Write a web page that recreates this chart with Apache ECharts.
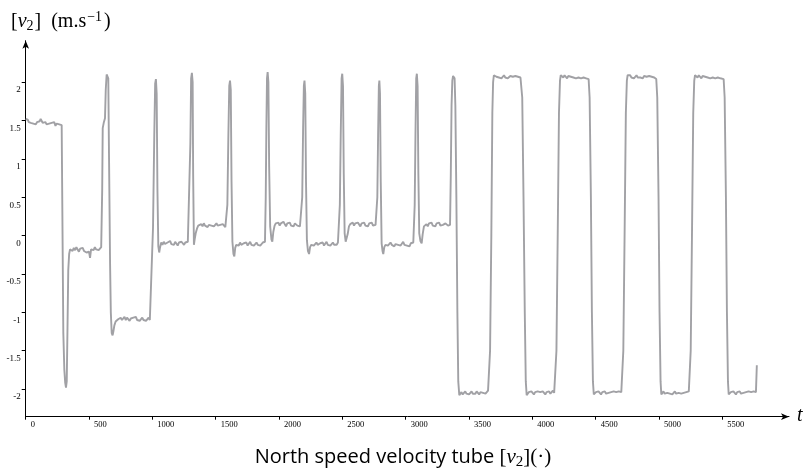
<!DOCTYPE html>
<html><head><meta charset="utf-8">
<script src="https://cdn.jsdelivr.net/npm/echarts/dist/echarts.min.js"></script>
<style>html,body{margin:0;padding:0;background:#fff}#c{width:806px;height:470px}</style>
</head><body><div id="c"></div>
<script>
const xTicks = [0, 500, 1000, 1500, 2000, 2500, 3000, 3500, 4000, 4500, 5000, 5500];
const yTicks = [-2, -1.5, -1, -0.5, 0, 0.5, 1, 1.5, 2];

// [t, v2] samples
const segStart = [[0,1.52],[8,1.50],[16,1.51],[24,1.48],[32,1.49],[40,1.47],[50,1.48],[60,1.46],[70,1.47],[80,1.45],[90,1.48],[100,1.46],[110,1.49],[118,1.52],[126,1.53],[134,1.47],[145,1.46],[155,1.48],[165,1.45],[175,1.47],[185,1.46],[195,1.44],[205,1.47],[215,1.46],[225,1.48],[235,1.43],[245,1.46],[255,1.47],[265,1.45],[275,1.46],[284,1.44],
 [297,-1.27],[305,-1.75],[312,-1.92],[318,-1.98],[324,-1.9],[330,-1.2],[336,-0.45],[343,-0.24],[350,-0.18],
 [360,-0.17],[370,-0.20],[380,-0.16],[390,-0.19],[400,-0.15],[410,-0.18],[420,-0.21],[430,-0.17],[440,-0.19],[450,-0.16],[460,-0.20],[470,-0.18],[480,-0.22],[490,-0.20],[500,-0.21],[508,-0.29],[516,-0.18],[526,-0.17],[536,-0.19],[546,-0.15],[556,-0.18],[566,-0.16],[576,-0.19],[586,-0.17],[596,-0.15],
 [600,-0.16],[604,0.6],[608,1.40],[616,1.47],[626,1.53],[632,1.9],[639,2.10],[646,2.12],[652,2.05],[658,1.0],[666,-0.35],[672,-1.0],[679,-1.27],[686,-1.30],[692,-1.25],[700,-1.17],[710,-1.12],[720,-1.10]];
const segLow1 = [[730,-1.09],[740,-1.11],[750,-1.07],[760,-1.10],[770,-1.08],[780,-1.06],[790,-1.10],[800,-1.07],[810,-1.09],[820,-1.11],[830,-1.08],[840,-1.10],[850,-1.07],[860,-1.09],[870,-1.06],[880,-1.10],[890,-1.08],[900,-1.11],[910,-1.09],[920,-1.07],[930,-1.10],[940,-1.08],[950,-1.11],[960,-1.09],[970,-1.07],[980,-1.10],[990,-1.12],[995,-1.09],
 [1005,0.1],[1015,1.3],[1022,1.98],[1028,2.04],[1034,1.85],[1040,0.6],[1047,-0.14],[1054,-0.22],[1060,-0.16],
 [1070,-0.09],[1080,-0.12],[1090,-0.08],[1100,-0.11],[1110,-0.13],[1120,-0.09],[1130,-0.10],[1140,-0.07],[1150,-0.11],[1160,-0.09],[1170,-0.12],[1180,-0.08],[1190,-0.10],[1200,-0.13],[1210,-0.09],[1220,-0.11],[1230,-0.08],[1240,-0.10],[1250,-0.12],[1260,-0.09],[1270,-0.11],[1280,-0.08],[1290,-0.10],
 [1300,1.2],[1306,2.05],[1312,2.12],[1318,2.0],[1322,0.8],[1328,-0.12],[1334,-0.05],[1342,0.03],[1352,0.09],[1362,0.13],[1376,0.15],
 [1386,0.15],[1396,0.12],[1406,0.16],[1416,0.13],[1426,0.15],[1436,0.11],[1446,0.14],[1456,0.16],[1466,0.13],[1476,0.15],[1486,0.12],[1496,0.14],[1506,0.16],[1516,0.13],[1526,0.11],[1536,0.14],[1546,0.12],[1556,0.15],[1566,0.13],[1576,0.11],[1586,0.13]];
const segMid = [[1592,0.4],[1600,1.3],[1607,1.95],[1613,2.02],[1619,1.9],[1625,0.7],[1632,-0.08],[1640,-0.24],[1647,-0.27],[1654,-0.16],[1662,-0.12],
 [1672,-0.10],[1682,-0.13],[1692,-0.09],[1702,-0.12],[1712,-0.14],[1722,-0.10],[1732,-0.12],[1742,-0.09],[1752,-0.13],[1762,-0.11],[1772,-0.08],[1782,-0.12],[1792,-0.10],[1802,-0.13],[1812,-0.11],[1822,-0.09],[1832,-0.12],[1842,-0.10],[1852,-0.13],[1862,-0.11],[1872,-0.09],[1882,-0.10],[1889,-0.08],
 [1895,0.5],[1900,1.4],[1905,2.05],[1910,2.13],[1916,2.0],[1922,0.9],[1930,0.12],[1940,-0.05],[1947,-0.08],[1955,0.05],[1965,0.13],[1975,0.16],
 [1985,0.14],[1995,0.17],[2005,0.13],[2015,0.16],[2025,0.14],[2035,0.18],[2045,0.15],[2055,0.12],[2065,0.16],[2075,0.14],[2085,0.17],[2095,0.13],[2105,0.15],[2115,0.12],[2125,0.16],[2135,0.14],[2145,0.13],[2155,0.15],[2165,0.12],[2175,0.14],
 [2183,0.5],[2190,1.4],[2196,1.95],[2201,2.02],[2207,1.85],[2213,0.7],[2220,-0.06],[2228,-0.2],[2237,-0.24],[2245,-0.15],[2255,-0.12],
 [2265,-0.10],[2275,-0.13],[2285,-0.11],[2295,-0.09],[2305,-0.12],[2315,-0.14],[2325,-0.10],[2335,-0.12],[2345,-0.09],[2355,-0.13],[2365,-0.11],[2375,-0.08],[2385,-0.12],[2395,-0.10],[2405,-0.13],[2415,-0.11],[2425,-0.09],[2435,-0.12],[2445,-0.10],[2455,-0.12],[2465,-0.09],[2474,-0.11],
 [2480,0.4],[2487,1.3],[2494,2.05],[2499,2.11],[2505,1.95],[2511,0.8],[2518,0.03],[2526,-0.08],[2534,-0.10],[2542,0.02],[2552,0.12],[2562,0.15],
 [2572,0.14],[2582,0.17],[2592,0.13],[2602,0.16],[2612,0.14],[2622,0.17],[2632,0.15],[2642,0.12],[2652,0.16],[2662,0.14],[2672,0.17],[2682,0.13],[2692,0.15],[2702,0.12],[2712,0.16],[2722,0.14],[2732,0.17],[2742,0.13],[2752,0.15],[2762,0.14],[2770,0.16],
 [2776,0.5],[2782,1.3],[2788,1.95],[2792,2.02],[2797,1.85],[2803,0.7],[2810,-0.1],[2817,-0.2],[2823,-0.24],[2831,-0.15],[2840,-0.12],
 [2850,-0.10],[2860,-0.13],[2870,-0.11],[2880,-0.09],[2890,-0.12],[2900,-0.10],[2910,-0.14],[2920,-0.11],[2930,-0.09],[2940,-0.12],[2950,-0.10],[2960,-0.13],[2970,-0.11],[2980,-0.08],[2990,-0.12],[3000,-0.10],[3010,-0.13],[3020,-0.11],[3030,-0.14],[3040,-0.10],[3050,-0.12],[3060,-0.09],[3066,-0.11],
 [3071,0.4],[3077,1.3],[3083,2.05],[3088,2.11],[3094,1.95],[3100,0.8],[3107,0.03],[3116,-0.07],[3126,-0.10],[3134,0.02],[3144,0.12],[3154,0.14],
 [3164,0.15],[3174,0.12],[3184,0.16],[3194,0.14],[3204,0.17],[3214,0.13],[3224,0.15],[3234,0.12],[3244,0.16],[3254,0.14],[3264,0.17],[3274,0.13],[3284,0.15],[3294,0.14],[3304,0.12],[3314,0.16],[3324,0.14],[3334,0.13],[3344,0.15],[3350,0.14]];
const segSquare = [[3356,0.8],[3362,1.7],[3368,2.02],[3374,2.08],[3380,2.09],[3386,2.05],[3392,1.7],[3400,0.5],[3408,-1.0],[3415,-1.9],[3423,-2.08],[3430,-2.1],
 [3440,-2.04],[3450,-2.07],[3460,-2.05],[3470,-2.03],[3480,-2.06],[3490,-2.04],[3500,-2.07],[3510,-2.05],[3520,-2.03],[3530,-2.06],[3540,-2.04],[3550,-2.06],[3560,-2.03],[3570,-2.05],[3580,-2.07],[3590,-2.04],[3600,-2.02],[3610,-2.05],[3620,-2.03],[3630,-2.06],[3640,-2.04],[3650,-2.02],[3660,-2.04],
 [3666,-1.5],[3676,0.0],[3684,1.6],[3690,2.0],[3696,2.09],
 [3706,2.09],[3716,2.07],[3726,2.08],[3736,2.06],[3746,2.08],[3756,2.05],[3766,2.07],[3776,2.09],[3786,2.06],[3796,2.08],[3806,2.05],[3816,2.07],[3826,2.08],[3836,2.06],[3846,2.07],[3856,2.05],[3866,2.08],[3876,2.06],[3886,2.07],[3896,2.05],[3906,2.06],[3914,2.04],
 [3920,1.8],[3930,0.5],[3940,-1.0],[3948,-1.9],[3955,-2.08],[3962,-2.06],
 [3972,-2.04],[3982,-2.06],[3992,-2.03],[4002,-2.05],[4012,-2.07],[4022,-2.04],[4032,-2.06],[4042,-2.03],[4052,-2.05],[4062,-2.04],[4072,-2.06],[4082,-2.03],[4092,-2.05],[4102,-2.07],[4112,-2.04],[4122,-2.05],[4132,-2.03],[4142,-2.06],[4152,-2.04],[4162,-2.02],[4172,-2.05],[4184,-2.03],
 [4190,-1.5],[4200,0.0],[4210,1.6],[4218,2.02],[4224,2.09],
 [4234,2.08],[4244,2.06],[4254,2.09],[4264,2.07],[4274,2.05],[4284,2.08],[4294,2.06],[4304,2.07],[4314,2.09],[4324,2.06],[4334,2.08],[4344,2.05],[4354,2.07],[4364,2.06],[4374,2.08],[4384,2.05],[4394,2.07],[4404,2.06],[4414,2.08],[4424,2.05],[4434,2.06],[4444,2.04],
 [4452,1.8],[4462,0.5],[4470,-1.0],[4478,-1.9],[4485,-2.07],[4492,-2.05],
 [4502,-2.04],[4512,-2.06],[4522,-2.03],[4532,-2.05],[4542,-2.07],[4552,-2.04],[4562,-2.05],[4572,-2.03],[4582,-2.06],[4592,-2.04],[4602,-2.05],[4612,-2.07],[4622,-2.04],[4632,-2.06],[4642,-2.03],[4652,-2.05],[4662,-2.04],[4672,-2.06],[4682,-2.03],[4692,-2.05],[4702,-2.04],[4712,-2.05],
 [4718,-1.5],[4728,0.0],[4738,1.6],[4746,2.02],[4752,2.09],
 [4762,2.07],[4772,2.09],[4782,2.06],[4792,2.08],[4802,2.05],[4812,2.07],[4822,2.09],[4832,2.06],[4842,2.08],[4852,2.06],[4862,2.07],[4872,2.05],[4882,2.08],[4892,2.06],[4902,2.07],[4912,2.05],[4922,2.08],[4932,2.06],[4942,2.07],[4952,2.05],[4962,2.06],[4978,2.04],
 [4986,1.8],[4996,0.5],[5004,-1.0],[5012,-1.9],[5018,-2.07],[5025,-2.05],
 [5035,-2.03],[5045,-2.06],[5055,-2.04],[5065,-2.05],[5075,-2.03],[5085,-2.06],[5095,-2.04],[5105,-2.07],[5115,-2.05],[5125,-2.03],[5135,-2.06],[5145,-2.04],[5155,-2.05],[5165,-2.03],[5175,-2.06],[5185,-2.04],[5195,-2.05],[5205,-2.07],[5215,-2.04],[5225,-2.05],[5235,-2.03],[5245,-2.05],
 [5250,-1.5],[5260,0.0],[5270,1.6],[5278,2.02],[5284,2.09],
 [5294,2.08],[5304,2.06],[5314,2.09],[5324,2.07],[5334,2.05],[5344,2.08],[5354,2.06],[5364,2.07],[5374,2.09],[5384,2.06],[5394,2.08],[5404,2.05],[5414,2.07],[5424,2.06],[5434,2.08],[5444,2.05],[5454,2.07],[5464,2.06],[5474,2.07],[5484,2.05],[5494,2.06],[5510,2.04],
 [5518,1.8],[5528,0.5],[5536,-1.0],[5544,-1.9],[5550,-2.07],[5557,-2.05],
 [5567,-2.04],[5577,-2.06],[5587,-2.03],[5597,-2.05],[5607,-2.07],[5617,-2.04],[5627,-2.05],[5637,-2.03],[5647,-2.06],[5657,-2.04],[5667,-2.05],[5677,-2.07],[5687,-2.04],[5697,-2.06],[5707,-2.03],[5717,-2.05],[5727,-2.04],[5737,-2.06],[5747,-2.03],[5757,-2.05],[5765,-2.04],[5772,-1.69]];

const v2Samples = segStart.concat(segLow1, segMid, segSquare);

const chart = echarts.init(document.getElementById('c'), null, {renderer: 'canvas'});
const serif = "'Liberation Serif', 'DejaVu Serif', serif";
const fmt = v => (Math.round(v * 10) / 10).toString();

chart.setOption({
  animation: false,
  backgroundColor: '#fff',
  grid: {left: 25.7, right: 17, top: 40.7, bottom: 53.3, containLabel: false, outerBoundsMode: 'none'},
  xAxis: {
    type: 'value', min: 0, max: 6026,
    splitLine: {show: false},
    axisLine: {show: true, onZero: false, symbol: ['none', 'arrow'], symbolSize: [5, 8], lineStyle: {color: '#000', width: 1}},
    axisTick: {show: true, customValues: xTicks, length: 3, lineStyle: {color: '#000', width: 1}},
    axisLabel: {customValues: xTicks, formatter: v => String(v), align: 'left', padding: [0, 0, 0, 5], margin: 4,
      fontFamily: serif, fontSize: 8.5, color: '#000'}
  },
  yAxis: {
    type: 'value', min: -2.36, max: 2.54,
    splitLine: {show: false},
    axisLine: {show: true, onZero: false, symbol: ['none', 'arrow'], symbolSize: [5, 8], lineStyle: {color: '#000', width: 1}},
    axisTick: {show: true, customValues: yTicks, length: 4, lineStyle: {color: '#000', width: 1}},
    axisLabel: {customValues: yTicks, formatter: fmt, margin: 5, verticalAlign: 'top', lineHeight: 16,
      fontFamily: serif, fontSize: 9, color: '#000'}
  },
  series: [{
    type: 'line', data: v2Samples, showSymbol: false, symbol: 'none',
    lineStyle: {color: '#a1a1a5', width: 1.9}, z: 1
  }],
  graphic: [
    {type: 'text', left: 11, top: 10, style: {
      text: '{b|[}{i|v}{s|2}{b|]}{n|  (m.s}{p|−1}{n|)}',
      fill: '#000',
      rich: {
        b: {fontFamily: serif, fontSize: 20, fill: '#000'},
        i: {fontFamily: serif, fontStyle: 'italic', fontSize: 20, fill: '#000'},
        s: {fontFamily: serif, fontSize: 14, fill: '#000', padding: [9, 1, 0, 0]},
        n: {fontFamily: serif, fontSize: 20, fill: '#000'},
        p: {fontFamily: serif, fontSize: 14, fill: '#000', padding: [0, 2, 10, 1]}
      }
    }},
    {type: 'text', x: 797, y: 416, style: {text: 't', fontFamily: serif, fontStyle: 'italic', fontSize: 20, fill: '#000', textVerticalAlign: 'middle', verticalAlign: 'middle'}},
    {type: 'text', left: 'center', top: 447, style: {
      text: '{a|North speed velocity tube }{b|[}{i|v}{s|2}{b|](·)}',
      fill: '#000',
      rich: {
        a: {fontFamily: "'Open Sans', 'Noto Sans', sans-serif", fontSize: 20, fill: '#000'},
        b: {fontFamily: serif, fontSize: 21, fill: '#000'},
        i: {fontFamily: serif, fontStyle: 'italic', fontSize: 21, fill: '#000'},
        s: {fontFamily: serif, fontSize: 15, fill: '#000', padding: [9, 0, 0, 0]}
      }
    }}
  ]
});
</script>
</body></html>
